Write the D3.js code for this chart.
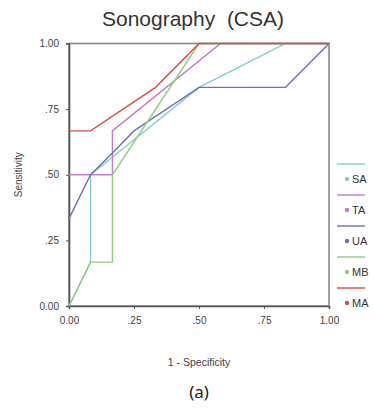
<!DOCTYPE html>
<html>
<head>
<meta charset="utf-8">
<script src="https://cdn.jsdelivr.net/npm/d3@7/dist/d3.min.js"></script>
<style>
  html, body { margin: 0; padding: 0; background: #fff; }
  svg { display: block; }
</style>
</head>
<body>
<svg id="chart" width="375" height="416"></svg>
<script>
// series names and colours
const seriesNames = ["SA", "TA", "UA", "MB", "MA"];
const seriesColors = ["#7dd0d4", "#c879cc", "#7271b6", "#8fcf7a", "#dc4a4a"];

// 1 - specificity (x) and sensitivity (y) for each curve
const saX = [0, 0.083, 0.083, 0.5, 0.833, 1];
const saY = [0, 0.167, 0.5, 0.833, 1, 1];
const taX = [0, 0.167, 0.167, 0.583, 1];
const taY = [0.5, 0.5, 0.667, 1, 1];
const uaX = [0, 0.083, 0.167, 0.25, 0.5, 0.833, 1];
const uaY = [0.333, 0.5, 0.583, 0.667, 0.833, 0.833, 1];
const mbX = [0, 0.083, 0.167, 0.167, 0.5, 1];
const mbY = [0, 0.167, 0.167, 0.5, 1, 1];
const maX = [0, 0.083, 0.333, 0.5, 1];
const maY = [0.667, 0.667, 0.833, 1, 1];

const tickValues = [0, 0.25, 0.5, 0.75, 1];
const tickLabels = ["0.00", ".25", ".50", ".75", "1.00"];

const curves = [[saX, saY], [taX, taY], [uaX, uaY], [mbX, mbY], [maX, maY]];

const svg = d3.select("#chart");
const margin = { left: 69, right: 46, top: 43.5, bottom: 110 };
const W = 375, H = 416;

const x = d3.scaleLinear().domain([0, 1]).range([margin.left, W - margin.right]);
const y = d3.scaleLinear().domain([0, 1]).range([H - margin.bottom, margin.top]);

const font = "'Liberation Sans', Arial, sans-serif";

// title
svg.append("text")
  .attr("x", 193).attr("y", 26)
  .attr("text-anchor", "middle")
  .attr("font-family", font).attr("font-size", 21)
  .attr("fill", "#333")
  .attr("xml:space", "preserve")
  .text("Sonography  (CSA)");

// frame
svg.append("rect")
  .attr("x", x(0)).attr("y", y(1))
  .attr("width", x(1) - x(0)).attr("height", y(0) - y(1))
  .attr("fill", "none").attr("stroke", "#8a8a8a").attr("stroke-width", 1.6);

// axes
const xAxis = svg.append("g")
  .attr("transform", `translate(0,${y(0)})`)
  .call(d3.axisBottom(x).tickValues(tickValues).tickSize(3).tickPadding(8)
    .tickFormat((d, i) => tickLabels[i]));
const yAxis = svg.append("g")
  .attr("transform", `translate(${x(0)},0)`)
  .call(d3.axisLeft(y).tickValues(tickValues).tickSize(3).tickPadding(7)
    .tickFormat((d, i) => tickLabels[i]));

[xAxis, yAxis].forEach(g => {
  g.select(".domain").attr("stroke", "#555").attr("stroke-width", 1.6);
  g.selectAll(".tick line").attr("stroke", "#555");
  g.selectAll(".tick text").attr("font-family", font).attr("font-size", 10)
    .attr("fill", "#444");
});

// axis titles
svg.append("text")
  .attr("x", 199).attr("y", 366)
  .attr("text-anchor", "middle")
  .attr("font-family", font).attr("font-size", 10.5).attr("fill", "#444")
  .text("1 - Specificity");

svg.append("text")
  .attr("transform", `translate(22,${(y(0) + y(1)) / 2}) rotate(-90)`)
  .attr("text-anchor", "middle")
  .attr("font-family", font).attr("font-size", 10).attr("fill", "#444")
  .text("Sensitivity");

// curves
const line = d3.line().x(d => x(d[0])).y(d => y(d[1]));
curves.forEach((c, i) => {
  const pts = c[0].map((v, j) => [v, c[1][j]]);
  svg.append("path")
    .datum(pts)
    .attr("d", line)
    .attr("fill", "none")
    .attr("stroke", seriesColors[i])
    .attr("stroke-width", 1.4);
});

// legend
const legend = svg.append("g").attr("transform", "translate(337,164)");
seriesNames.forEach((name, i) => {
  const g = legend.append("g").attr("transform", `translate(0,${i * 31})`);
  g.append("line")
    .attr("x1", 0).attr("x2", 28).attr("y1", 0).attr("y2", 0)
    .attr("stroke", seriesColors[i]).attr("stroke-width", 1.4);
  g.append("circle")
    .attr("cx", 10).attr("cy", 15).attr("r", 2.2)
    .attr("fill", seriesColors[i]);
  g.append("text")
    .attr("x", 15).attr("y", 19)
    .attr("font-family", font).attr("font-size", 11).attr("fill", "#333")
    .text(name);
});

// caption
svg.append("text")
  .attr("x", 199).attr("y", 398)
  .attr("text-anchor", "middle")
  .attr("font-family", "'Noto Sans', 'Open Sans', sans-serif").attr("font-size", 17)
  .attr("fill", "#222")
  .text("(a)");
</script>
</body>
</html>
